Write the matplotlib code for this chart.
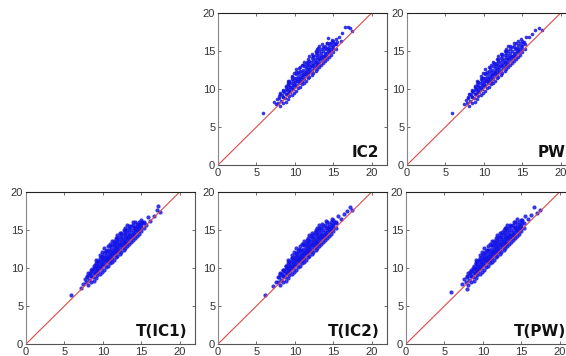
import matplotlib
matplotlib.use("Agg")
import matplotlib.pyplot as plt

core_x = [7.8,8.0,8.2,8.3,8.5,8.6,8.7,8.9,9.0,9.0,9.2,9.2,9.4,9.4,9.5,9.6,9.7,9.8,9.8,10.0,10.0,10.1,10.2,10.3,10.4,10.5,10.5,10.6,10.7,10.8,10.9,11.0,11.0,11.1,11.2,11.3,11.4,11.5,11.5,11.6,11.7,11.8,11.9,12.0,12.0,12.1,12.2,12.3,12.4,12.5,12.5,12.6,12.7,12.8,12.9,13.0,13.0,13.1,13.2,13.3,13.4,13.5,13.6,13.7,13.8,13.9,14.0,14.1,14.3,14.5,14.6,14.8,15.0,15.1]
core_y = [8.2,8.8,8.4,9.2,9.0,9.6,8.8,9.3,10.0,9.3,9.7,10.4,9.6,10.2,10.8,10.0,10.5,11.1,10.0,10.4,10.9,11.4,10.5,11.0,11.6,10.8,11.3,12.0,11.0,11.6,12.2,11.3,11.9,12.5,11.5,12.1,12.8,11.8,12.4,13.0,12.0,12.6,13.2,12.3,12.9,13.5,12.5,13.1,13.8,12.8,13.4,14.0,13.0,13.6,14.2,13.3,13.9,14.5,13.5,14.1,14.7,13.8,14.4,15.0,14.1,14.7,15.2,14.4,15.0,15.4,14.9,15.6,15.3,16.0]

wide_x = [8.1,8.1,8.4,8.4,8.4,8.8,8.8,8.8,9.1,9.1,9.1,9.1,9.3,9.3,9.3,9.6,9.6,9.6,9.6,9.9,9.9,9.9,9.9,10.2,10.2,10.2,10.2,10.4,10.4,10.4,10.7,10.7,10.7,10.7,10.9,10.9,10.9,10.9,11.2,11.2,11.2,11.2,11.4,11.4,11.4,11.7,11.7,11.7,11.7,11.9,11.9,11.9,11.9,12.2,12.2,12.2,12.2,12.4,12.4,12.4,12.7,12.7,12.7,12.7,12.9,12.9,12.9,12.9,13.2,13.2,13.2,13.2,13.4,13.4,13.4,13.7,13.7,13.7,13.9,13.9,13.9,14.2,14.2,14.2,14.2,14.4,14.4,14.4,14.7,14.7,14.7,15.0,15.0,15.0,15.4,15.4]
wide_y = [7.7,9.4,8.1,9.0,9.8,8.3,9.9,10.3,8.7,9.5,10.6,11.0,9.1,10.0,10.9,9.2,10.3,11.3,11.7,9.5,10.6,11.5,12.1,9.8,11.2,12.0,12.6,10.1,11.0,12.3,10.3,11.4,12.4,12.9,10.6,11.1,11.8,13.1,10.8,12.0,13.0,13.5,11.1,12.3,13.3,11.4,12.6,13.4,14.0,11.6,12.2,13.7,14.3,11.9,13.0,14.1,14.6,12.1,13.2,14.4,12.4,13.5,14.5,15.0,12.6,13.2,14.7,15.3,12.9,14.0,15.0,15.6,13.1,14.2,15.3,13.4,14.4,15.5,13.7,14.5,15.6,13.9,14.7,15.4,16.0,14.2,15.1,15.8,14.5,15.2,16.1,14.9,15.7,16.3,15.2,15.9]

ic2_x = [5.9,7.3,7.6,7.7,7.9,8.1,8.4,8.8,9.1,9.3,9.6,10.2,10.6,11.0,11.6,12.4,12.8,13.0,13.5,13.8,14.2,14.3,14.6,14.9,15.2,15.3,15.5,15.8,16.0,16.2,16.5,16.9,17.2,17.5]
ic2_y = [6.8,8.3,8.0,8.7,9.1,9.5,9.9,10.4,10.8,11.0,11.6,12.2,12.8,13.2,13.6,14.4,14.9,15.4,15.9,15.4,16.1,16.7,16.0,16.4,15.9,16.6,16.2,16.9,16.3,17.4,18.2,18.2,18.0,17.6]

pw_x = [5.8,7.4,7.7,7.9,8.2,8.5,8.9,9.3,9.7,10.2,10.8,11.3,11.9,12.4,12.9,13.4,13.9,14.4,14.8,15.2,15.5,15.9,16.3,16.7,17.2,17.6]
pw_y = [6.8,8.0,8.6,9.0,9.4,9.9,10.4,10.9,11.4,12.1,12.8,13.4,14.0,14.6,15.0,15.6,16.0,16.3,16.6,16.2,16.8,16.9,17.3,17.7,18.0,17.8]

tic1_x = [5.8,7.1,7.4,7.7,8.0,8.3,8.6,9.0,9.4,9.9,10.4,10.9,11.4,11.9,12.4,12.9,13.4,13.9,14.2,14.6,15.0,15.3,15.6,15.9,16.2,16.6,17.0,17.2,17.5]
tic1_y = [6.5,7.4,7.9,8.6,9.0,9.4,9.9,10.4,10.9,11.6,12.2,12.9,13.5,14.0,14.6,15.0,15.5,16.0,15.1,15.7,15.9,16.1,15.6,16.7,16.2,16.9,17.6,18.1,17.4]

tic2_x = [6.1,7.2,7.5,7.8,8.1,8.4,8.8,9.2,9.6,10.1,10.6,11.1,11.6,12.1,12.6,13.1,13.6,14.1,14.5,14.9,15.3,15.6,16.0,16.4,16.8,17.2,17.5]
tic2_y = [6.4,7.6,8.2,8.8,9.2,9.7,10.2,10.8,11.3,11.9,12.5,13.1,13.7,14.2,14.8,15.3,15.8,16.2,15.2,16.4,16.0,16.8,16.5,17.1,17.5,18.0,17.6]

tpw_x = [5.8,7.3,7.6,7.9,8.0,8.3,8.7,9.1,9.5,10.0,10.5,11.0,11.5,12.0,12.5,13.0,13.5,14.0,14.4,14.8,15.1,15.5,15.9,16.3,16.7,17.0,17.5]
tpw_y = [6.8,7.9,8.5,7.3,9.0,9.5,10.0,10.6,11.1,11.8,12.4,13.0,13.6,14.1,14.7,15.2,15.7,16.1,16.5,15.4,16.3,16.9,16.4,17.0,18.0,17.3,17.6]

line_v = [0, 20]
xticks = [0, 5, 10, 15, 20]
yticks = [0, 5, 10, 15, 20]

W, H = 566, 356
panels = [
    ("IC2", 218, 13, 165, ic2_x, ic2_y, 0.955, 2.6),
    ("PW", 407, 13, 165, pw_x, pw_y, 0.94, 2.6),
    ("T(IC1)", 26, 192, 344, tic1_x, tic1_y, 0.955, 3.0),
    ("T(IC2)", 218, 192, 344, tic2_x, tic2_y, 0.955, 3.0),
    ("T(PW)", 406, 192, 344, tpw_x, tpw_y, 0.945, 3.0),
]
plt.rcParams["font.family"] = ["Liberation Sans", "DejaVu Sans"]
fig = plt.figure(figsize=(W / 100, H / 100), dpi=100)
for name, left, top, bottom, ex, ey, tx, ms in panels:
    ax = fig.add_axes([left / W, 1 - bottom / H, 169 / W, (bottom - top) / H])
    ax.plot(core_x + wide_x + ex, core_y + wide_y + ey, ls="none", marker="o", ms=ms, mfc="#1414e6",
            mec="none", alpha=0.85)
    ax.plot(line_v, line_v, color="#e04848", lw=0.8)
    ax.set_xlim(0, 22)
    ax.set_ylim(0, 20)
    ax.set_xticks(xticks)
    ax.set_yticks(yticks)
    ax.tick_params(direction="in", length=2, width=0.6, color="#555555", labelsize=8,
                   labelcolor="#333333", pad=2, top=True, right=True)
    for s in ax.spines.values():
        s.set_linewidth(0.8)
        s.set_color("#555555")
    ax.spines["top"].set_color("#222222")
    ax.spines["left"].set_color("#888888")
    ax.text(tx, 0.085, name, transform=ax.transAxes, ha="right", va="center",
            fontsize=11, fontweight="bold", family="DejaVu Sans", color="#111111", clip_on=False)
fig.savefig("out.png", dpi=100)
